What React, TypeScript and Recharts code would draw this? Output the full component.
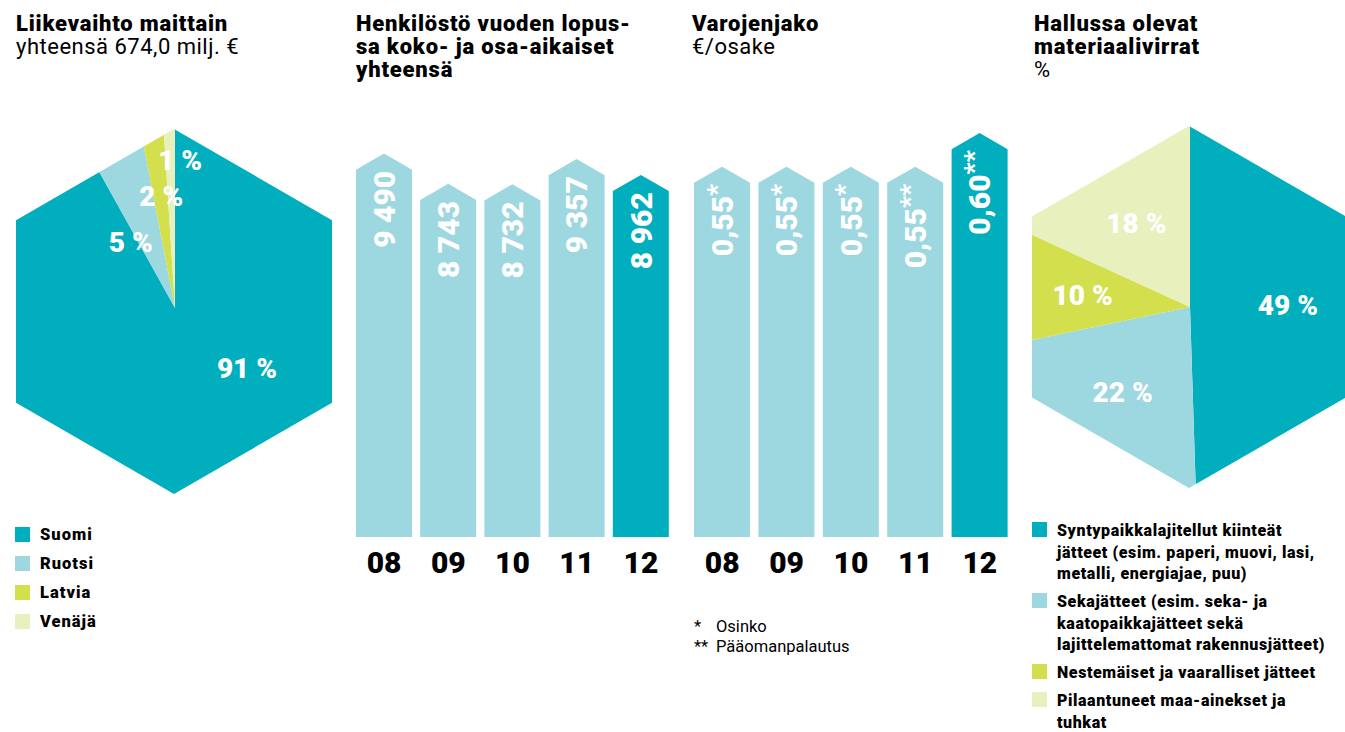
import { Bar, BarChart, Cell, LabelList, Pie, PieChart, XAxis, YAxis } from "recharts";

const TEAL = "#00AEBD";
const LIGHT = "#9DD7E0";
const LIME = "#D4DF4E";
const PALE = "#E8F0BD";
const FONT = "Roboto, 'Noto Sans', sans-serif";

// Liikevaihto maittain, %
const countries = ["Suomi", "Ruotsi", "Latvia", "Venäjä"];
const countryShares = [91, 5, 2, 1];
const countryColors = [TEAL, LIGHT, LIME, PALE];

// Henkilöstö vuoden lopussa
const years = ["08", "09", "10", "11", "12"];
const staff = [9490, 8743, 8732, 9357, 8962];

// Varojenjako, €/osake
const dividends = [0.55, 0.55, 0.55, 0.55, 0.6];
const dividendMarks = ["*", "*", "*", "**", "**"];

// Hallussa olevat materiaalivirrat, %
const wasteTypes = [
  "Syntypaikkalajitellut kiinteät\njätteet (esim. paperi, muovi, lasi,\nmetalli, energiajae, puu)",
  "Sekajätteet (esim. seka- ja\nkaatopaikkajätteet sekä\nlajittelemattomat rakennusjätteet)",
  "Nestemäiset ja vaaralliset jätteet",
  "Pilaantuneet maa-ainekset ja\ntuhkat",
];
const wasteShares = [49, 22, 10, 18];
const wasteColors = [TEAL, LIGHT, LIME, PALE];

const countryData = countries.map((name, i) => ({ name, value: countryShares[i] }));
const wasteData = wasteTypes.map((name, i) => ({ name, value: wasteShares[i] }));
const staffData = years.map((year, i) => ({
  year,
  value: staff[i],
  label: String(staff[i]).replace(/\B(?=(\d{3})+(?!\d))/g, " "),
}));
const dividendData = years.map((year, i) => ({
  year,
  value: dividends[i],
  label: dividends[i].toFixed(2).replace(".", ","),
}));

// label placement inside the hexagons
const countryLabelAt = [
  { angle: -40, r: 94 },
  { angle: 124, r: 79 },
  { angle: 97, r: 112 },
  { angle: 88, r: 148 },
];
const wasteLabelR = [98, 109, 108, 99];

const HEX = "polygon(50% 0%, 100% 25%, 100% 75%, 50% 100%, 0% 75%, 0% 25%)";
const RAD = Math.PI / 180;

const pctText = (x: number, y: number, value: number) => (
  <text
    x={x}
    y={y}
    fill="#fff"
    textAnchor="middle"
    dominantBaseline="central"
    fontFamily={FONT}
    fontWeight={900}
    fontSize={28}
  >
    {`${value} %`}
  </text>
);

const countryLabel = (props: any) => {
  const p = countryLabelAt[props.index];
  return pctText(props.cx + p.r * Math.cos(p.angle * RAD), props.cy - p.r * Math.sin(p.angle * RAD), props.value);
};

const wasteLabel = (props: any) => {
  const r = wasteLabelR[props.index];
  return pctText(props.cx + r * Math.cos(props.midAngle * RAD), props.cy - r * Math.sin(props.midAngle * RAD), props.value);
};

const HouseBar = (props: any) => {
  const { x, y, width, height, fill } = props;
  if (!height || height <= 0) return null;
  const roof = (width / 2) * Math.tan(30 * RAD);
  const d = `M${x},${y + roof}L${x + width / 2},${y}L${x + width},${y + roof}L${x + width},${y + height}L${x},${y + height}Z`;
  return <path d={d} fill={fill} />;
};

const barLabel = (marks?: string[]) => (props: any) => {
  const vb = props.viewBox ?? props;
  const { x, y, width } = vb;
  const roof = (width / 2) * Math.tan(30 * RAD);
  const cx = x + width / 2;
  const ty = y + roof + 1;
  return (
    <text
      x={cx}
      y={ty}
      dy="0.36em"
      transform={`rotate(-90 ${cx} ${ty})`}
      textAnchor="end"
      fill="#fff"
      fontFamily={FONT}
      fontWeight={900}
      fontSize={30}
    >
      {props.value}
      {marks ? (
        <tspan dy="-0.28em" fontSize={26}>
          {marks[props.index]}
        </tspan>
      ) : null}
    </text>
  );
};

const abs = (left: number, top: number, extra: any = {}) => ({
  position: "absolute" as const,
  left,
  top,
  ...extra,
});

const Title = ({ left, bold, regular }: { left: number; bold: string[]; regular?: string }) => (
  <div style={abs(left, 12, { fontFamily: FONT, fontSize: 22, lineHeight: "23px", color: "#000" })}>
    {bold.map((t) => (
      <div key={t} style={{ fontWeight: 900, letterSpacing: 0.8 }}>
        {t}
      </div>
    ))}
    {regular ? <div style={{ fontWeight: 400, letterSpacing: 0.5 }}>{regular}</div> : null}
  </div>
);

const TickStyle = { fontSize: 30, fontWeight: 900, fill: "#000", fontFamily: FONT };

export default function App() {
  return (
    <div
      style={{
        position: "absolute",
        left: 0,
        top: 0,
        width: 1345,
        height: 732,
        overflow: "hidden",
        background: "#fff",
        fontFamily: FONT,
      }}
    >
      <Title left={16} bold={["Liikevaihto maittain"]} regular="yhteensä 674,0 milj. €" />
      <Title left={356} bold={["Henkilöstö vuoden lopus-", "sa koko- ja osa-aikaiset", "yhteensä"]} />
      <Title left={692} bold={["Varojenjako"]} regular="€/osake" />
      <Title left={1034} bold={["Hallussa olevat", "materiaalivirrat"]} regular="%" />

      {/* Liikevaihto maittain */}
      <div style={abs(16, 129, { width: 316, height: 365, clipPath: HEX })}>
        <PieChart width={316} height={365} margin={{ top: 0, right: 0, bottom: 0, left: 0 }}>
          <Pie
            data={countryData}
            dataKey="value"
            nameKey="name"
            cx={159}
            cy={179}
            outerRadius={230}
            startAngle={90}
            endAngle={-270}
            stroke="none"
            labelLine={false}
            label={countryLabel}
            isAnimationActive={false}
          >
            {countryData.map((d, i) => (
              <Cell key={d.name} fill={countryColors[i]} />
            ))}
          </Pie>
        </PieChart>
      </div>
      <div style={abs(15, 527)}>
        {countries.map((c, i) => (
          <div key={c} style={{ display: "flex", alignItems: "center", height: 29, marginTop: i ? 0 : -7 }}>
            <div style={{ width: 15, height: 15, background: countryColors[i], marginRight: 10 }} />
            <span style={{ fontSize: 16.5, fontWeight: 900, letterSpacing: 1 }}>{c}</span>
          </div>
        ))}
      </div>

      {/* Henkilöstö */}
      <div style={abs(352, 100)}>
        <BarChart width={321} height={480} data={staffData} margin={{ top: 33, right: 0, bottom: 0, left: 0 }}>
          <XAxis dataKey="year" axisLine={false} tickLine={false} height={43} tickMargin={9} interval={0} tick={TickStyle} />
          <YAxis hide domain={[0, 10000]} />
          <Bar dataKey="value" barSize={56} shape={HouseBar} isAnimationActive={false}>
            {staffData.map((d, i) => (
              <Cell key={d.year} fill={i === staffData.length - 1 ? TEAL : LIGHT} />
            ))}
            <LabelList dataKey="label" content={barLabel()} />
          </Bar>
        </BarChart>
      </div>

      {/* Varojenjako */}
      <div style={abs(690, 100)}>
        <BarChart width={322} height={480} data={dividendData} margin={{ top: 33, right: 0, bottom: 0, left: 0 }}>
          <XAxis dataKey="year" axisLine={false} tickLine={false} height={43} tickMargin={9} interval={0} tick={TickStyle} />
          <YAxis hide domain={[0, 0.6]} />
          <Bar dataKey="value" barSize={56} shape={HouseBar} isAnimationActive={false}>
            {dividendData.map((d, i) => (
              <Cell key={d.year} fill={i === dividendData.length - 1 ? TEAL : LIGHT} />
            ))}
            <LabelList dataKey="label" content={barLabel(dividendMarks)} />
          </Bar>
        </BarChart>
      </div>
      <div style={abs(694, 617, { fontSize: 16.5, lineHeight: "20px" })}>
        <div style={{ display: "flex" }}>
          <span style={{ width: 22 }}>*</span>
          <span>Osinko</span>
        </div>
        <div style={{ display: "flex" }}>
          <span style={{ width: 22 }}>**</span>
          <span>Pääomanpalautus</span>
        </div>
      </div>

      {/* Materiaalivirrat */}
      <div style={abs(1032, 126, { width: 314, height: 362, clipPath: HEX })}>
        <PieChart width={314} height={362} margin={{ top: 0, right: 0, bottom: 0, left: 0 }}>
          <Pie
            data={wasteData}
            dataKey="value"
            nameKey="name"
            cx={158}
            cy={181}
            outerRadius={230}
            startAngle={90}
            endAngle={-270}
            stroke="none"
            labelLine={false}
            label={wasteLabel}
            isAnimationActive={false}
          >
            {wasteData.map((d, i) => (
              <Cell key={i} fill={wasteColors[i]} />
            ))}
          </Pie>
        </PieChart>
      </div>
      <div style={abs(1032, 520)}>
        {wasteTypes.map((t, i) => (
          <div key={i} style={{ display: "flex", alignItems: "flex-start", marginBottom: 6.5 }}>
            <div style={{ width: 15, height: 15, background: wasteColors[i], marginRight: 10, marginTop: 2, flex: "none" }} />
            <span style={{ fontSize: 16, fontWeight: 900, lineHeight: "21.5px", whiteSpace: "pre", letterSpacing: 0.6 }}>{t}</span>
          </div>
        ))}
      </div>
    </div>
  );
}
